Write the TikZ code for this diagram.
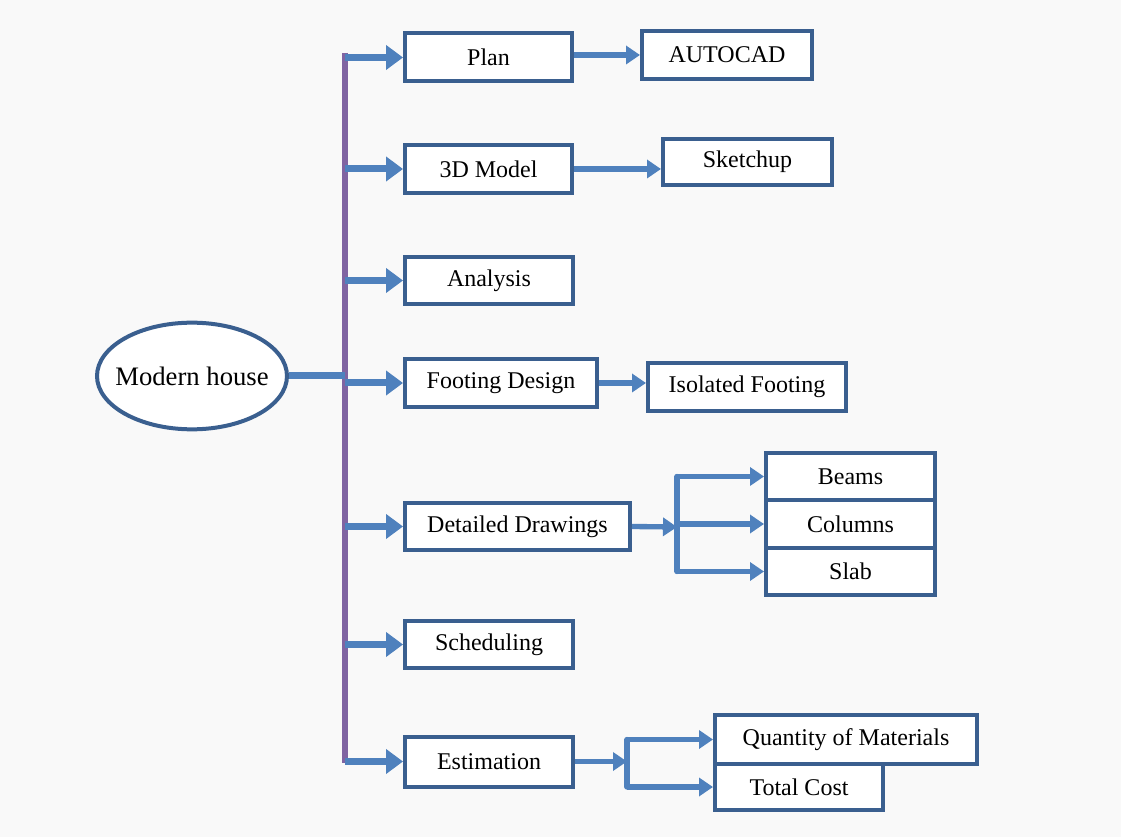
\documentclass[tikz,border=0pt]{standalone}
\usepackage{fontspec}
\setmainfont{Liberation Serif}
\usetikzlibrary{arrows.meta,shapes.geometric}
\newlength\pxl
\setlength\pxl{0.75pt}
\definecolor{bgc}{HTML}{F9F9F9}
\definecolor{boxc}{HTML}{3A5F8F}
\definecolor{arrc}{HTML}{4F81BD}
\definecolor{trunkc}{HTML}{8064A2}
\tikzset{
  hbox/.style={draw=boxc, line width=3pt, fill=white, rectangle, inner sep=0pt,
    font=\fontsize{18}{20}\selectfont, text=black},
  rootnode/.style={draw=boxc, line width=3pt, fill=white, ellipse, inner xsep=-8pt, inner ysep=0pt,
    minimum width=142.5pt, minimum height=80pt, font=\fontsize{20}{22}\selectfont},
  bigarrow/.style={draw=arrc, line width=5.25pt, -{Triangle[length=12.75pt,width=18pt]}},
  smallarrow/.style={draw=arrc, line width=4pt, -{Triangle[length=10.5pt,width=13.5pt]}},
  bline/.style={draw=arrc, line width=4pt, line cap=round},
  trunkline/.style={draw=trunkc, line width=4.5pt},
  rootline/.style={draw=arrc, line width=5.25pt}
}
\begin{document}
\begin{tikzpicture}[x=0.75pt,y=-0.75pt]
\fill[bgc] (0,0) rectangle (1121,837);
\useasboundingbox (0,0) rectangle (1121,837);
% root
\node[rootnode] (root) at (192,376) {Modern house};
% main boxes
\node[hbox, minimum width=167\pxl, minimum height=48\pxl] (plan) at (488.5,57.5) {Plan};
\node[hbox, minimum width=170\pxl, minimum height=48\pxl] (autocad) at (727,55) {AUTOCAD};
\node[hbox, minimum width=167\pxl, minimum height=48\pxl] (model) at (488.5,169) {3D Model};
\node[hbox, minimum width=169\pxl, minimum height=46\pxl] (sketch) at (747.5,162) {Sketchup};
\node[hbox, minimum width=168\pxl, minimum height=47\pxl] (analysis) at (489,280.5) {Analysis};
\node[hbox, minimum width=192\pxl, minimum height=48\pxl] (footing) at (501,383) {Footing Design};
\node[hbox, minimum width=198\pxl, minimum height=48\pxl] (isolated) at (747,387) {Isolated Footing};
\node[hbox, minimum width=225\pxl, minimum height=47\pxl] (dd) at (517.5,526.5) {Detailed Drawings};
\node[hbox, minimum width=169\pxl, minimum height=47\pxl] (beams) at (850.5,476.5) {Beams};
\node[hbox, minimum width=169\pxl, minimum height=48\pxl] (columns) at (850.5,524) {Columns};
\node[hbox, minimum width=169\pxl, minimum height=47\pxl] (slab) at (850.5,571.5) {Slab};
\node[hbox, minimum width=168\pxl, minimum height=47\pxl] (sched) at (489,644.5) {Scheduling};
\node[hbox, minimum width=168\pxl, minimum height=50\pxl] (est) at (489,761.5) {Estimation};
\node[hbox, minimum width=262\pxl, minimum height=49\pxl] (qom) at (846,739.5) {Quantity of Materials};
\node[hbox, minimum width=168\pxl, minimum height=46\pxl] (tc) at (799,787) {Total Cost};
% trunk
\coordinate (ttop) at (345,53);
\coordinate (tbot) at (345,763);
\draw[trunkline] (ttop) -- (tbot);
\draw[rootline] (root.east) -- (ttop |- root.east);
\foreach \n in {plan,model,analysis,footing,dd,sched,est}{
  \draw[bigarrow] (ttop |- \n.west) -- (\n.west);
}
% second level
\draw[smallarrow] (plan.east |- autocad.west) -- (autocad.west);
\draw[smallarrow] (model.east) -- (sketch.west |- model.east);
\draw[smallarrow] (footing.east) -- (isolated.west |- footing.east);
% detailed drawings branch
\coordinate (dj) at (677,527);
\draw[smallarrow] (dd.east) -- (dj);
\draw[bline] (dj |- beams.west) -- (dj |- slab.west);
\foreach \n in {beams,columns,slab}{
  \draw[smallarrow] (dj |- \n.west) -- (\n.west);
}
% estimation branch
\coordinate (ej) at (627,761.5);
\draw[smallarrow] (est.east) -- (ej);
\draw[bline] (ej |- qom.west) -- (ej |- tc.west);
\foreach \n in {qom,tc}{
  \draw[smallarrow] (ej |- \n.west) -- (\n.west);
}
\end{tikzpicture}
\end{document}
